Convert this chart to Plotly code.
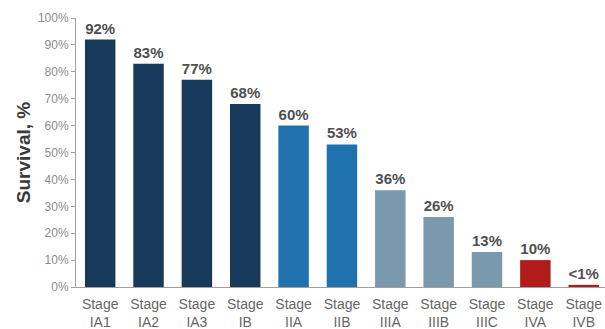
import plotly.graph_objects as go

categories = ["Stage<br>IA1", "Stage<br>IA2", "Stage<br>IA3", "Stage<br>IB", "Stage<br>IIA", "Stage<br>IIB",
              "Stage<br>IIIA", "Stage<br>IIIB", "Stage<br>IIIC", "Stage<br>IVA", "Stage<br>IVB"]
survival = [92, 83, 77, 68, 60, 53, 36, 26, 13, 10, 0.8]
value_labels = ["92%", "83%", "77%", "68%", "60%", "53%", "36%", "26%", "13%", "10%", "<1%"]
bar_colors = ["#17395a", "#17395a", "#17395a", "#17395a", "#1f72ae", "#1f72ae",
              "#7a99ae", "#7a99ae", "#7a99ae", "#b01b1b", "#b01b1b"]
tick_vals = [0, 10, 20, 30, 40, 50, 60, 70, 80, 90, 100]
tick_text = ["0%", "10%", "20%", "30%", "40%", "50%", "60%", "70%", "80%", "90%", "100%"]

fig = go.Figure(go.Bar(
    x=categories, y=survival, marker_color=bar_colors, marker_line_width=0,
    text=value_labels, textposition="outside", cliponaxis=False,
    textfont=dict(family="Liberation Sans, Arial", size=15, color="#505050", weight="bold"),
))
fig.update_layout(
    width=605, height=329,
    margin=dict(l=76, r=0, t=18, b=42),
    paper_bgcolor="white", plot_bgcolor="white",
    bargap=0.37, showlegend=False,
    font=dict(family="Liberation Sans, Arial"),
    yaxis=dict(range=[0, 100], tickvals=tick_vals, ticktext=tick_text, showgrid=False,
               showline=True, linecolor="#a0a0a0", linewidth=1, ticks="outside", ticklen=4,
               tickcolor="#a0a0a0", tickfont=dict(size=12, color="#8c8c8c"),
               title=dict(text="<b>Survival, %</b>", font=dict(size=19, color="#3a3a3a"), standoff=2),
               zeroline=False),
    xaxis=dict(range=[-0.5, 10.44], showline=True, linecolor="#a0a0a0", linewidth=1, ticks="",
               ticklabelstandoff=4, tickfont=dict(size=14, color="#666666")),
)
fig.write_html("out.html", config={"displayModeBar": False},
               post_script="document.body.style.margin='0';document.body.style.overflow='hidden';")
